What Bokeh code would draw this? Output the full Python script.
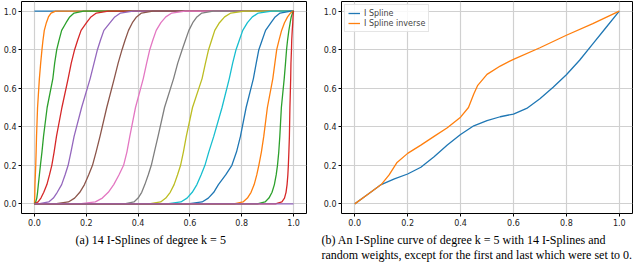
from bokeh.plotting import figure
from bokeh.layouts import row
from bokeh.models import Range1d, FixedTicker, Title
from bokeh.embed import file_html
from bokeh.resources import INLINE

# ---------------- data ----------------
tick_values = [0.0, 0.2, 0.4, 0.6, 0.8, 1.0]
tick_labels = ["0.0", "0.2", "0.4", "0.6", "0.8", "1.0"]

# Panel (a): 14 I-splines; x position at which each curve reaches these y levels
levels = [0.0, 0.01, 0.03, 0.06, 0.1, 0.15, 0.2, 0.27, 0.35, 0.5, 0.65, 0.73, 0.8,
          0.85, 0.9, 0.94, 0.97, 0.99, 1.0]
ispline_x = [
    [0.0, 0.0003, 0.001, 0.0015, 0.002, 0.0035, 0.005, 0.0065, 0.008, 0.012, 0.019,
     0.024, 0.029, 0.033, 0.038, 0.046, 0.054, 0.064, 0.082],
    [0.0, 0.005, 0.009, 0.012, 0.015, 0.019, 0.023, 0.029, 0.035, 0.049, 0.071,
     0.078, 0.086, 0.095, 0.105, 0.122, 0.136, 0.153, 0.19],
    [0.0, 0.014, 0.025, 0.036, 0.048, 0.058, 0.067, 0.076, 0.085, 0.106, 0.13,
     0.142, 0.155, 0.167, 0.18, 0.201, 0.218, 0.239, 0.285],
    [0.015, 0.055, 0.073, 0.088, 0.105, 0.118, 0.13, 0.141, 0.153, 0.182, 0.215,
     0.23, 0.243, 0.255, 0.268, 0.292, 0.31, 0.332, 0.38],
    [0.078, 0.131, 0.155, 0.175, 0.193, 0.209, 0.224, 0.238, 0.253, 0.279, 0.308,
     0.323, 0.338, 0.35, 0.363, 0.378, 0.394, 0.413, 0.457],
    [0.173, 0.235, 0.262, 0.285, 0.306, 0.326, 0.344, 0.357, 0.368, 0.39, 0.42,
     0.433, 0.445, 0.457, 0.47, 0.488, 0.507, 0.53, 0.582],
    [0.347, 0.384, 0.4, 0.414, 0.426, 0.439, 0.451, 0.463, 0.477, 0.502, 0.537,
     0.553, 0.57, 0.583, 0.596, 0.611, 0.627, 0.646, 0.69],
    [0.442, 0.487, 0.507, 0.524, 0.539, 0.552, 0.564, 0.575, 0.586, 0.61, 0.647,
     0.66, 0.672, 0.684, 0.696, 0.714, 0.734, 0.758, 0.811],
    [0.512, 0.565, 0.589, 0.609, 0.627, 0.643, 0.658, 0.673, 0.692, 0.724, 0.752,
     0.765, 0.778, 0.791, 0.804, 0.822, 0.841, 0.864, 0.916],
    [0.592, 0.647, 0.671, 0.692, 0.71, 0.738, 0.762, 0.78, 0.795, 0.817, 0.845,
     0.856, 0.866, 0.879, 0.892, 0.913, 0.929, 0.948, 0.99],
    [0.77, 0.805, 0.822, 0.836, 0.848, 0.858, 0.866, 0.876, 0.885, 0.899, 0.92,
     0.928, 0.935, 0.944, 0.954, 0.965, 0.977, 0.988, 0.998],
    [0.86, 0.89, 0.905, 0.917, 0.926, 0.933, 0.938, 0.943, 0.947, 0.953, 0.964,
     0.969, 0.973, 0.977, 0.982, 0.987, 0.991, 0.996, 1.0],
    [0.93, 0.955, 0.965, 0.971, 0.975, 0.978, 0.98, 0.982, 0.984, 0.986, 0.989,
     0.99, 0.992, 0.993, 0.995, 0.997, 0.998, 0.999, 1.0],
]
first_x = [0.0, 1.0]
first_y = [1.0, 1.0]
last_x = [0.0, 1.0]
last_y = [0.0, 0.0]

# Panel (b)
spline_x = [0.0, 0.05, 0.1, 0.15, 0.2, 0.25, 0.3, 0.35, 0.4, 0.45, 0.5, 0.55, 0.6,
            0.65, 0.7, 0.75, 0.8, 0.85, 0.9, 0.95, 1.0]
spline_y = [0.0, 0.05, 0.10, 0.13, 0.155, 0.19, 0.245, 0.305, 0.36, 0.405, 0.432, 0.452,
            0.466, 0.495, 0.545, 0.605, 0.67, 0.745, 0.83, 0.915, 1.0]
inverse_x = [0.0, 0.05, 0.1, 0.13, 0.16, 0.2, 0.25, 0.3, 0.35, 0.4, 0.43, 0.45, 0.465,
             0.5, 0.55, 0.6, 0.7, 0.8, 0.9, 1.0]
inverse_y = [0.0, 0.05, 0.1, 0.15, 0.215, 0.262, 0.305, 0.35, 0.395, 0.45, 0.5, 0.57,
             0.615, 0.672, 0.715, 0.75, 0.81, 0.875, 0.935, 1.0]

caption_a = "(a) 14 I-Splines of degree k = 5"
caption_b = ("(b) An I-Spline curve of degree k = 5 with 14 I-Splines and\n"
             "random weights, except for the first and last which were set to 0.")

tab10 = ["#1f77b4", "#ff7f0e", "#2ca02c", "#d62728", "#9467bd",
         "#8c564b", "#e377c2", "#7f7f7f", "#bcbd22", "#17becf"]

FIG_H = 265


def make_fig(width, left, right):
    p = figure(width=width, height=FIG_H, x_range=Range1d(-0.05, 1.05),
               y_range=Range1d(-0.05, 1.05), output_backend="svg",
               toolbar_location=None, min_border_left=left, min_border_right=right,
               min_border_top=1, min_border_bottom=40)
    p.outline_line_color = "black"
    p.outline_line_width = 1
    p.outline_line_alpha = 1
    p.background_fill_color = "white"
    p.border_fill_color = "white"
    for ax in (p.xaxis[0], p.yaxis[0]):
        ax.ticker = FixedTicker(ticks=tick_values)
        ax.major_label_overrides = dict(zip(tick_values, tick_labels))
        ax.axis_line_color = None
        ax.major_tick_line_color = "black"
        ax.major_tick_out = 3
        ax.major_tick_in = 0
        ax.minor_tick_line_color = None
        ax.major_label_text_font = "DejaVu Sans"
        ax.major_label_text_font_size = "8px"
        ax.major_label_text_color = "#222222"
        ax.major_label_standoff = 2
    p.grid.grid_line_color = "#d0d0d0"
    p.grid.grid_line_width = 1.2
    return p


def caption(p, text, offset):
    p.add_layout(Title(text=text, align="left", offset=offset, vertical_align="bottom",
                       text_font="Liberation Serif", text_font_size="12px",
                       text_font_style="normal", text_color="black",
                       text_line_height=1.1, standoff=6), "below")


# ---------- panel (a) ----------
pa = make_fig(320, 19, 14)
pa.line(first_x, first_y, line_color=tab10[0], line_width=1.3)
for i, xs in enumerate(ispline_x):
    pa.line([0.0] + xs + [1.0], [0.0] + levels + [1.0],
            line_color=tab10[(i + 1) % 10], line_width=1.3)
pa.line(last_x, last_y, line_color=tab10[4], line_width=1.3)
caption(pa, caption_a + "\n\u00a0", 54)

# ---------- panel (b) ----------
pb = make_fig(320, 21, 8)
pb.line(spline_x, spline_y, line_color=tab10[0], line_width=1.3, legend_label="I Spline")
pb.line(inverse_x, inverse_y, line_color=tab10[1], line_width=1.3,
        legend_label="I Spline inverse")
pb.legend.location = "top_left"
pb.legend.margin = 3
pb.legend.padding = 3
pb.legend.spacing = 0
pb.legend.glyph_width = 12
pb.legend.glyph_height = 10
pb.legend.label_height = 10
pb.legend.label_standoff = 4
pb.legend.label_text_font = "DejaVu Sans"
pb.legend.label_text_font_size = "8px"
pb.legend.border_line_color = "#cccccc"
pb.legend.background_fill_alpha = 0.85
caption(pb, caption_b, -20)

layout = row(pa, pb, spacing=0)
open("out.html", "w").write(file_html(layout, INLINE))
